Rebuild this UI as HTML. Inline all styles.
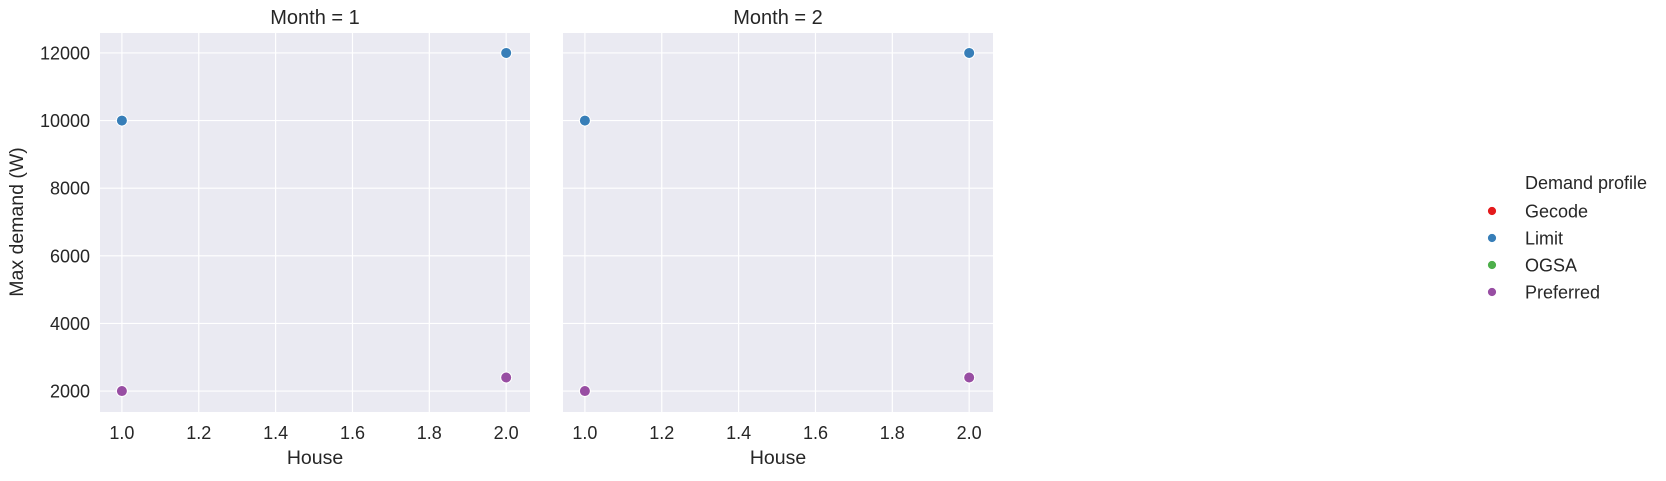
<!DOCTYPE html>
<html><head><meta charset="utf-8"><style>
body{margin:0;background:#fff;}
svg{font-family:"Liberation Sans",sans-serif;fill:#262626;}
</style></head><body>
<svg id="chart" width="1666" height="476" viewBox="0 0 1666 476"></svg>
<script>
const panels = ["Month = 1", "Month = 2"];
const houses = [1, 2];
const limitValues = [[10000, 12000], [10000, 12000]];
const preferredValues = [[2000, 2400], [2000, 2400]];
const xTicks = [1.0, 1.2, 1.4, 1.6, 1.8, 2.0];
const yTicks = [2000, 4000, 6000, 8000, 10000, 12000];
const legendLabels = ["Gecode", "Limit", "OGSA", "Preferred"];
const legendColors = ["#e41a1c", "#377eb8", "#4daf4a", "#984ea3"];

const NS = "http://www.w3.org/2000/svg";
const svgEl = document.getElementById("chart");
function mk(tag, attrs, parent) {
  const e = document.createElementNS(NS, tag);
  for (const k in attrs) e.setAttribute(k, attrs[k]);
  (parent || svgEl).appendChild(e);
  return e;
}
const plotTop = 33, plotBottom = 412, pw = 430;
const lefts = [100, 563];
const xMin = 0.943, xMax = 2.062, yMin = 1380, yMax = 12590;
function yS(v) { return plotBottom - (v - yMin) / (yMax - yMin) * (plotBottom - plotTop); }

panels.forEach((title, p) => {
  const L = lefts[p];
  const xS = v => L + (v - xMin) / (xMax - xMin) * pw;
  const g = mk("g", {});
  
  
  const bg = mk("rect", {x: L, y: plotTop, width: pw, height: plotBottom - plotTop, fill: "#eaeaf2"}, g);
  
  
  xTicks.forEach(t => {
    const gl = mk("line", {x1: xS(t), x2: xS(t), y1: plotTop, y2: plotBottom, stroke: "#fff", "stroke-width": 1.2}, g);
    
    
    const tl = mk("text", {x: xS(t), y: 439, "text-anchor": "middle", "font-size": 18}, g);
    tl.textContent = t.toFixed(1);
    
    
  });
  yTicks.forEach(t => {
    const gl = mk("line", {x1: L, x2: L + pw, y1: yS(t), y2: yS(t), stroke: "#fff", "stroke-width": 1.2}, g);
    
    
    if (p === 0) {
      const tl = mk("text", {x: L - 10, y: yS(t) + 6.5, "text-anchor": "end", "font-size": 18}, g);
      tl.textContent = t;
      
      
    }
  });
  const tt = mk("text", {x: L + pw / 2, y: 24, "text-anchor": "middle", "font-size": 20}, g);
  tt.textContent = title;
  
  
  const xt = mk("text", {x: L + pw / 2, y: 464, "text-anchor": "middle", "font-size": 19.5}, g);
  xt.textContent = "House";
  
  
  [[limitValues, legendColors[1], 'limit'], [preferredValues, legendColors[3], 'preferred']].forEach(([vals, col, nm]) => {
    houses.forEach((h, i) => {
      const c = mk("circle", {cx: xS(h), cy: yS(vals[p][i]), r: 5.5, fill: col, stroke: "#fff", "stroke-width": 1}, g);
      
      
    });
  });
});
const yl = mk("text", {x: 0, y: 0, transform: "translate(23,222) rotate(-90)", "text-anchor": "middle", "font-size": 19.5});
yl.textContent = "Max demand (W)";



const lg = mk("g", {});


const lt = mk("text", {x: 1525, y: 189, "font-size": 18}, lg);
lt.textContent = "Demand profile";


legendLabels.forEach((lab, i) => {
  const y = 211 + i * 27;
  const c = mk("circle", {cx: 1492, cy: y, r: 4.5, fill: legendColors[i], stroke: "#fff", "stroke-width": 0.8}, lg);
  
  
  const t = mk("text", {x: 1525, y: y + 6.5, "font-size": 18}, lg);
  t.textContent = lab;
  
  
});
</script>
</body></html>
